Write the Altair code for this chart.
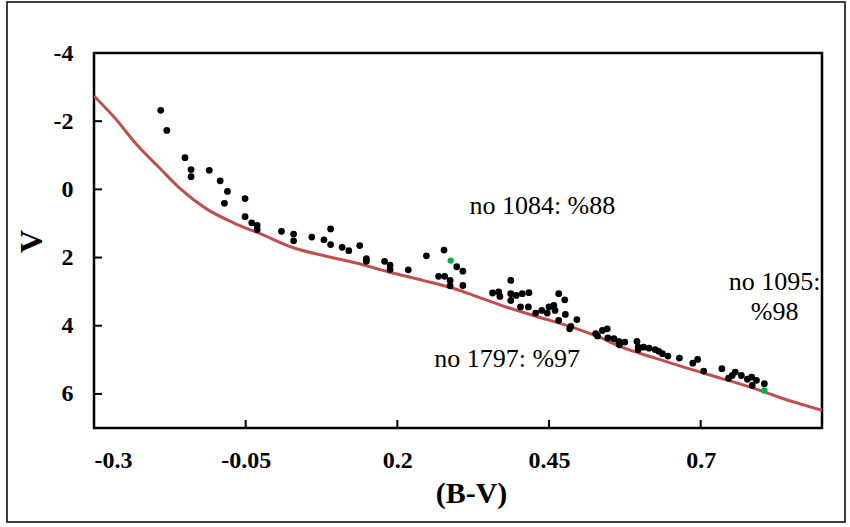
import altair as alt
import pandas as pd

# ---- data ----
star_bv = [-0.190, -0.180, -0.150, -0.140, -0.140, -0.110, -0.092, -0.080, -0.085, -0.051,
           -0.051, -0.040, -0.031, -0.031, 0.009, 0.029, 0.029,
           0.059, 0.079, 0.090, 0.090, 0.109, 0.120, 0.138, 0.149, 0.149, 0.179, 0.188, 0.188,
           0.218, 0.248, 0.277, 0.298, 0.308, 0.268, 0.278, 0.287, 0.287, 0.308,
           0.387, 0.357, 0.367, 0.369, 0.387, 0.387, 0.396, 0.406, 0.417, 0.403, 0.416, 0.428,
           0.438, 0.447, 0.450, 0.458, 0.460, 0.466, 0.476, 0.477, 0.466, 0.496, 0.486, 0.484,
           0.527, 0.530,
           0.538, 0.546, 0.547, 0.557, 0.565, 0.566, 0.575, 0.595, 0.597, 0.597, 0.606, 0.615,
           0.625, 0.631, 0.637, 0.646, 0.665, 0.687, 0.695, 0.705, 0.735, 0.746, 0.752, 0.757,
           0.767, 0.777, 0.784, 0.785, 0.792, 0.805]
star_v = [-2.32, -1.73, -0.93, -0.58, -0.37, -0.56, -0.25, 0.06, 0.41, 0.27,
          0.80, 0.98, 1.06, 1.18, 1.23, 1.31, 1.51,
          1.40, 1.48, 1.16, 1.62, 1.70, 1.80, 1.65, 2.03, 2.11, 2.11, 2.22, 2.35,
          2.36, 1.95, 1.78, 2.27, 2.40, 2.55, 2.55, 2.67, 2.83, 2.82,
          2.67, 3.04, 3.01, 3.14, 3.06, 3.26, 3.11, 3.06, 3.03, 3.45, 3.45, 3.63,
          3.55, 3.63, 3.45, 3.40, 3.55, 3.06, 3.24, 3.67, 3.84, 3.82, 4.02, 4.09,
          4.23, 4.30,
          4.14, 4.09, 4.36, 4.38, 4.46, 4.56, 4.48, 4.46, 4.63, 4.70, 4.63, 4.66,
          4.70, 4.75, 4.82, 4.89, 4.95, 5.10, 4.99, 5.33, 5.26, 5.54, 5.46, 5.36,
          5.46, 5.57, 5.51, 5.75, 5.60, 5.70]

green_bv = [0.288, 0.805]
green_v = [2.09, 5.90]

zams_bv = [-0.300, -0.267, -0.229, -0.191, -0.158, -0.114, -0.070, -0.026, 0.030, 0.078,
           0.132, 0.187, 0.242, 0.297, 0.324, 0.379, 0.434, 0.488, 0.532, 0.570,
           0.625, 0.680, 0.735, 0.790, 0.828, 0.900]
zams_v = [-2.74, -2.12, -1.30, -0.61, -0.02, 0.58, 0.98, 1.30, 1.72, 1.94,
          2.16, 2.43, 2.67, 2.93, 3.10, 3.45, 3.75, 4.04, 4.33, 4.63,
          4.95, 5.26, 5.55, 5.85, 6.09, 6.48]

x_ticks = [-0.3, -0.05, 0.2, 0.45, 0.7]
y_ticks = [-4, -2, 0, 2, 4, 6]

note_text = ["no 1084: %88", "no 1797: %97", "no 1095:", "%98"]
note_bv = [0.439, 0.381, 0.822, 0.822]
note_v = [0.49, 4.99, 2.73, 3.60]

# ---- chart ----
W, H = 728, 375
FONT = "Liberation Serif"

xs = alt.Scale(domain=[-0.3, 0.9], nice=False, zero=False)
ys = alt.Scale(domain=[-4, 7], reverse=True, nice=False, zero=False)

x_axis = alt.Axis(values=x_ticks, title="(B-V)", grid=False, ticks=False, tickSize=0,
                  domain=False, labelFont=FONT, labelFontSize=24, labelFontWeight="bold",
                  labelColor="black", labelPadding=20, labelExpr="'' + datum.value",
                  titleFont=FONT, titleFontSize=30, titleFontWeight="bold", titleColor="black",
                  titleX=377, titleY=65, titleBaseline="middle", titleAlign="center")
y_axis = alt.Axis(values=y_ticks, title="V", grid=False, ticks=False, tickSize=0,
                  domain=False, labelFont=FONT, labelFontSize=24, labelFontWeight="bold",
                  labelColor="black", labelPadding=21, labelExpr="'' + datum.value",
                  titleFont=FONT, titleFontSize=32, titleFontWeight="bold", titleColor="black",
                  titleAngle=270, titleX=-63, titleY=188, titleBaseline="middle",
                  titleAlign="center")

zams_df = pd.DataFrame({"bv": zams_bv, "v": zams_v, "i": range(len(zams_bv))})
star_df = pd.DataFrame({"bv": star_bv, "v": star_v})
green_df = pd.DataFrame({"bv": green_bv, "v": green_v})
xt_df = pd.DataFrame({"t": x_ticks[1:]})
yt_df = pd.DataFrame({"t": y_ticks[1:]})
note_df = pd.DataFrame({"bv": note_bv, "v": note_v, "label": note_text})

line = alt.Chart(zams_df).mark_line(color="#C0504D", strokeWidth=3, clip=True,
                                    interpolate="monotone").encode(
    x=alt.X("bv:Q", scale=xs, axis=x_axis),
    y=alt.Y("v:Q", scale=ys, axis=y_axis),
    order="i:Q",
)

stars = alt.Chart(star_df).mark_circle(size=46, color="black", opacity=1).encode(
    x=alt.X("bv:Q", scale=xs), y=alt.Y("v:Q", scale=ys)
)

greens = alt.Chart(green_df).mark_circle(size=40, color="#00B050", opacity=1).encode(
    x=alt.X("bv:Q", scale=xs), y=alt.Y("v:Q", scale=ys)
)

xticks = alt.Chart(xt_df).mark_rule(color="black", strokeWidth=2).encode(
    x=alt.X("t:Q", scale=xs), y=alt.value(H - 8), y2=alt.value(H)
)
yticks = alt.Chart(yt_df).mark_rule(color="black", strokeWidth=2).encode(
    y=alt.Y("t:Q", scale=ys), x=alt.value(0), x2=alt.value(8)
)

notes = alt.Chart(note_df).mark_text(font=FONT, fontSize=26, color="black",
                                     align="center", baseline="middle").encode(
    x=alt.X("bv:Q", scale=xs), y=alt.Y("v:Q", scale=ys), text="label:N"
)

frame = alt.Chart(pd.DataFrame({"a": [0]})).mark_rect(
    filled=False, stroke="black", strokeWidth=1.5, clip=False
).encode(x=alt.value(-87), x2=alt.value(751), y=alt.value(-51), y2=alt.value(469))

chart = alt.layer(line, stars, greens, xticks, yticks, notes, frame).properties(
    width=W, height=H,
    autosize=alt.AutoSizeParams(type="none"),
    padding={"left": 94, "top": 53, "right": 28, "bottom": 99},
    background="white",
).configure_view(stroke="black", strokeWidth=2.5)

chart.save("out.html", embed_options={"renderer": "svg", "actions": False})
